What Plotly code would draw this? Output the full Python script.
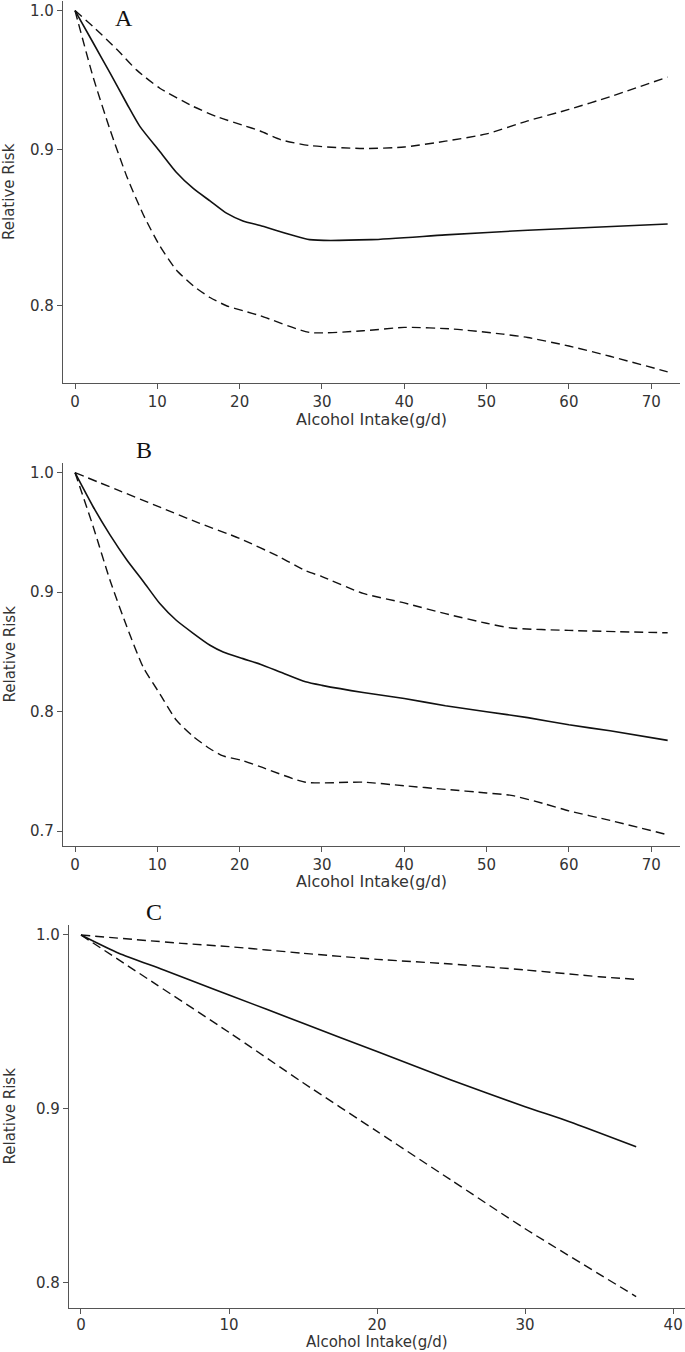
import math
import plotly.graph_objects as go

W, H = 685, 1352

# ---------------- data ----------------
# Panel A
A_x_mid = [0, 2.2, 4.25, 6.3, 7.9, 10.3, 12.3, 14.4, 16.4, 18.4, 20.4, 22.5, 28.5, 36, 45, 55, 72]
A_rr_mid = [1.0, 0.976, 0.954, 0.932, 0.916, 0.899, 0.885, 0.874, 0.866, 0.858, 0.853, 0.850, 0.841, 0.841, 0.844, 0.847, 0.851]
A_x_up = [0, 2.2, 5.1, 7.5, 10.3, 14.4, 17.2, 20.4, 22.5, 25, 28.5, 35, 40, 45, 50, 55, 60, 65, 72]
A_rr_up = [1.0, 0.988, 0.971, 0.956, 0.943, 0.930, 0.923, 0.917, 0.913, 0.907, 0.903, 0.901, 0.902, 0.906, 0.911, 0.920, 0.928, 0.937, 0.951]
A_x_lo = [0, 2.2, 4.25, 6.3, 8.3, 10.3, 12.3, 14.4, 16.4, 18.4, 20.4, 22.5, 28.5, 35, 40, 46, 52, 55, 60, 65, 72]
A_rr_lo = [1.0, 0.951, 0.914, 0.882, 0.857, 0.837, 0.822, 0.812, 0.805, 0.800, 0.797, 0.794, 0.784, 0.785, 0.787, 0.786, 0.783, 0.781, 0.776, 0.770, 0.761]

# Panel B
B_x_mid = [0, 2.2, 4.25, 6.3, 8.3, 10.3, 12.3, 14.4, 16.4, 18.0, 20.4, 22.5, 25, 28, 30, 35, 40, 45, 50, 55, 60, 65, 72]
B_rr_mid = [1.0, 0.9715, 0.948, 0.927, 0.909, 0.8905, 0.8765, 0.8654, 0.8556, 0.850, 0.8444, 0.8397, 0.833, 0.825, 0.822, 0.816, 0.811, 0.805, 0.800, 0.795, 0.789, 0.784, 0.776]
B_x_up = [0, 5, 10, 15, 20, 25, 28, 30, 35, 40, 45, 50, 53, 60, 72]
B_rr_up = [1.0, 0.986, 0.972, 0.958, 0.945, 0.929, 0.918, 0.913, 0.899, 0.891, 0.882, 0.874, 0.870, 0.868, 0.866]
B_x_lo = [0, 2.2, 4.25, 6.3, 8.3, 10.3, 12.3, 14.4, 16.4, 18.0, 20.4, 22.5, 28, 35, 40, 45, 50, 53, 57, 60, 65, 72]
B_rr_lo = [1.0, 0.955, 0.910, 0.871, 0.837, 0.815, 0.793, 0.779, 0.769, 0.763, 0.759, 0.754, 0.741, 0.741, 0.738, 0.735, 0.732, 0.730, 0.723, 0.717, 0.709, 0.697]

# Panel C
C_x_mid = [0, 2.55, 5.55, 8.8, 10, 15, 20, 25, 30, 33, 37.5]
C_rr_mid = [1.0, 0.9895, 0.980, 0.9693, 0.9655, 0.9492, 0.9329, 0.9166, 0.9012, 0.8926, 0.8782]
C_x_up = [0, 6.8, 10, 15, 20, 25, 30, 35, 37.5]
C_rr_up = [1.0, 0.9952, 0.9933, 0.9895, 0.986, 0.9833, 0.9799, 0.976, 0.9745]
C_x_lo = [0, 5, 10, 15, 20, 25, 30, 37.5]
C_rr_lo = [1.0, 0.972, 0.944, 0.915, 0.887, 0.859, 0.831, 0.792]

panel_labels = ["A", "B", "C"]
x_title = "Alcohol Intake(g/d)"
y_title = "Relative Risk"
AB_xticks = [0, 10, 20, 30, 40, 50, 60, 70]
C_xticks = [0, 10, 20, 30, 40]
A_yticks = [0.8, 0.9, 1.0]
B_yticks = [0.7, 0.8, 0.9, 1.0]
C_yticks = [0.8, 0.9, 1.0]

# ---------------- figure ----------------
def py(px):
    return 1 - px / H

LINE = "#111111"
AX = "#555555"
FONT = "DejaVu Sans"
TICKFONT = dict(family=FONT, size=15, color="#333333")

fig = go.Figure()

panels = [
    ("x", "y", A_x_mid, A_rr_mid, A_x_up, A_rr_up, A_x_lo, A_rr_lo),
    ("x2", "y2", B_x_mid, B_rr_mid, B_x_up, B_rr_up, B_x_lo, B_rr_lo),
    ("x3", "y3", C_x_mid, C_rr_mid, C_x_up, C_rr_up, C_x_lo, C_rr_lo),
]
for xa, ya, xm, ym, xu, yu, xl, yl in panels:
    fig.add_trace(go.Scatter(x=xu, y=yu, mode="lines", xaxis=xa, yaxis=ya,
                             line=dict(color=LINE, width=1.4, dash="9px,5px",
                                       shape="spline", smoothing=0.6)))
    fig.add_trace(go.Scatter(x=xm, y=ym, mode="lines", xaxis=xa, yaxis=ya,
                             line=dict(color=LINE, width=1.6, shape="spline", smoothing=0.6)))
    fig.add_trace(go.Scatter(x=xl, y=yl, mode="lines", xaxis=xa, yaxis=ya,
                             line=dict(color=LINE, width=1.4, dash="9px,5px",
                                       shape="spline", smoothing=0.6)))

common = dict(showline=True, linecolor=AX, linewidth=1.2, ticks="outside", ticklen=5,
              tickwidth=1, tickcolor=AX, showgrid=False, zeroline=False, mirror=False,
              tickfont=TICKFONT)

fig.update_layout(
    xaxis=dict(domain=[63 / W, 680 / W], range=[-1.46, 73.5], anchor="y",
               tickvals=AB_xticks, **common),
    yaxis=dict(domain=[py(383), py(1)], type="log",
               range=[math.log10(0.7546), math.log10(1.0073)], anchor="x",
               tickvals=A_yticks, ticktext=["%.1f" % v for v in A_yticks], **common),
    xaxis2=dict(domain=[63 / W, 680 / W], range=[-1.46, 73.5], anchor="y2",
                tickvals=AB_xticks, **common),
    yaxis2=dict(domain=[py(846), py(463)], range=[0.6876, 1.0081], anchor="x2",
                tickvals=B_yticks, ticktext=["%.1f" % v for v in B_yticks], **common),
    xaxis3=dict(domain=[69 / W, 1.0], range=[-0.81, 40.8], anchor="y3",
                tickvals=C_xticks, ticklabelstandoff=-2, **common),
    yaxis3=dict(domain=[py(1308), py(925)], range=[0.7854, 1.00575], anchor="x3",
                tickvals=C_yticks, ticktext=["%.1f" % v for v in C_yticks], **common),
)

annotations = []
for lab, (lx, ly) in zip(panel_labels, [(124, 18), (144, 450), (154, 912)]):
    annotations.append(dict(text=lab, x=lx / W, y=py(ly), xref="paper", yref="paper",
                            xanchor="center", yanchor="middle", showarrow=False,
                            font=dict(family="Liberation Serif", size=24, color="#111111")))
for (cx, cy, fs) in [(371.5, 420, 16), (371.5, 881, 16), (377, 1342, 15)]:
    annotations.append(dict(text=x_title, x=cx / W, y=py(cy), xref="paper", yref="paper",
                            xanchor="center", yanchor="middle", showarrow=False,
                            font=dict(family=FONT, size=fs, color="#333333")))
for cy in [192, 654.5, 1116.5]:
    annotations.append(dict(text=y_title, x=9 / W, y=py(cy), xref="paper", yref="paper",
                            xanchor="center", yanchor="middle", showarrow=False, textangle=-90,
                            font=dict(family=FONT, size=15, color="#333333")))

fig.update_layout(
    width=W, height=H, margin=dict(l=0, r=0, t=0, b=0),
    paper_bgcolor="white", plot_bgcolor="white", showlegend=False,
    annotations=annotations,
)

fig.write_html("out.html", config={"displayModeBar": False},
               post_script="document.body.style.margin='0';document.body.style.overflow='hidden';")
